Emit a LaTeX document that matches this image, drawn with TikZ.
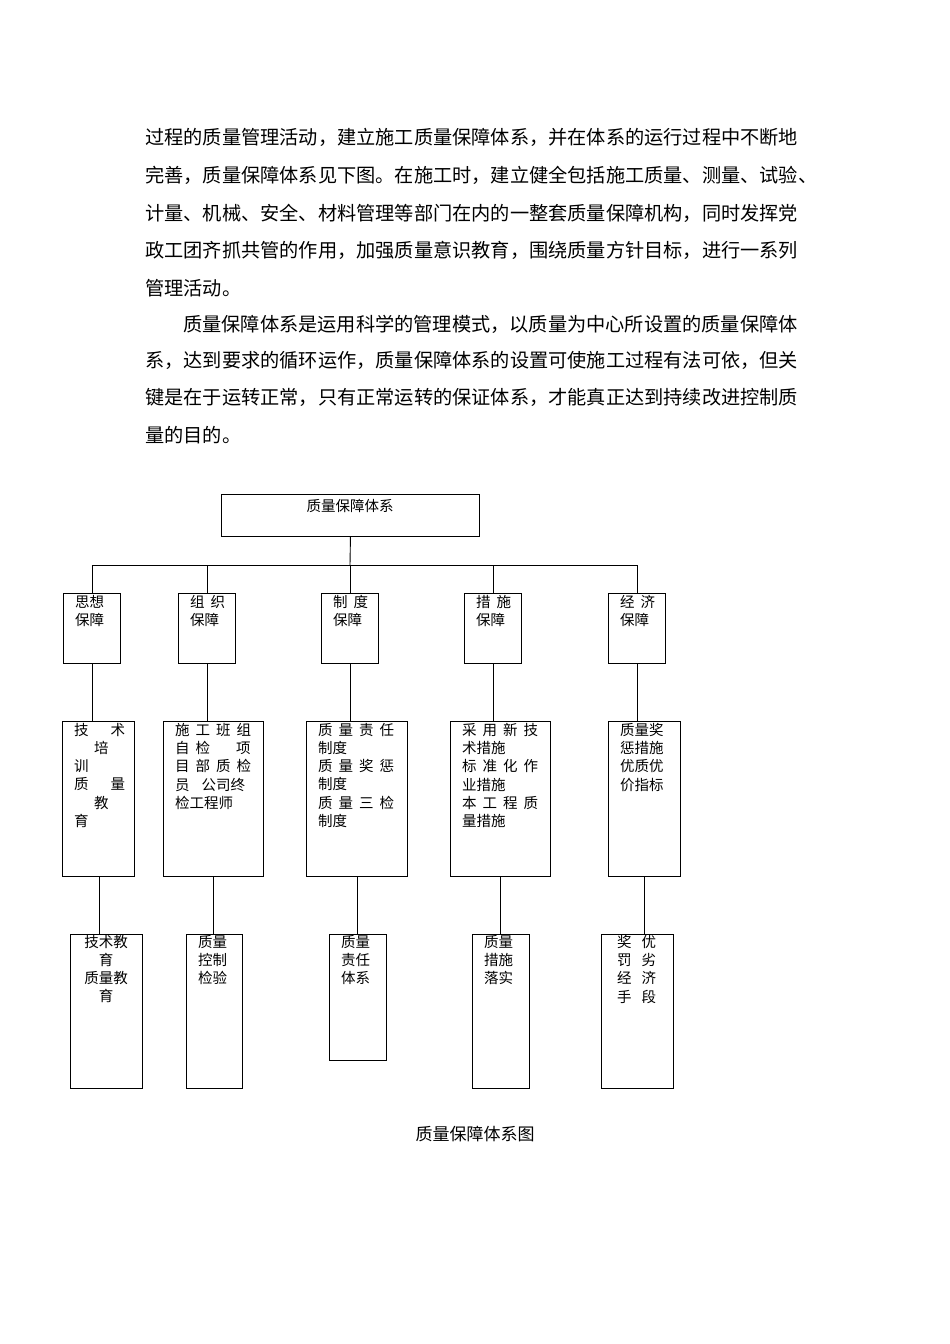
\documentclass[tikz,border=0pt]{standalone}
\usepackage{fontspec}
\setmainfont{Noto Sans CJK SC}
\begin{document}
\begin{tikzpicture}[x=1pt,y=-1pt,
  bx/.style={draw,line width=0.9pt,rectangle,anchor=north west,inner sep=0pt},
  tx/.style={anchor=north west,inner sep=0pt,align=left,font=\fontsize{14.5}{18.2}\selectfont},
  para/.style={anchor=west,inner sep=0pt,font=\fontsize{19.2}{19.2}\selectfont},
  ln/.style={line width=0.9pt}]
\useasboundingbox (0,0) rectangle (950,1344);
\newcommand\gp{\hspace{6pt}}
\node[para] (p1) at (145,137) {过程的质量管理活动，建立施工质量保障体系，并在体系的运行过程中不断地};
\node[para] (p2) at (145,175) {完善，质量保障体系见下图。在施工时，建立健全包括施工质量、测量、试验、};
\node[para] (p3) at (145,213) {计量、机械、安全、材料管理等部门在内的一整套质量保障机构，同时发挥党};
\node[para] (p4) at (145,250) {政工团齐抓共管的作用，加强质量意识教育，围绕质量方针目标，进行一系列};
\node[para] (p5) at (145,288) {管理活动。};
\node[para] (p6) at (183,324) {质量保障体系是运用科学的管理模式，以质量为中心所设置的质量保障体};
\node[para] (p7) at (145,360) {系，达到要求的循环运作，质量保障体系的设置可使施工过程有法可依，但关};
\node[para] (p8) at (145,397) {键是在于运转正常，只有正常运转的保证体系，才能真正达到持续改进控制质};
\node[para] (p9) at (145,435) {量的目的。};
% top
\node[bx,minimum width=258pt,minimum height=42pt] (top) at (221,494) {};
\node[tx,anchor=north] (toptx) at (350,499) {质量保障体系};
% level 1
\node[bx,minimum width=57pt,minimum height=70pt] (a1) at (63,593) {};
\node[bx,minimum width=57pt,minimum height=70pt] (a2) at (178,593) {};
\node[bx,minimum width=57pt,minimum height=70pt] (a3) at (321,593) {};
\node[bx,minimum width=57pt,minimum height=70pt] (a4) at (464,593) {};
\node[bx,minimum width=57pt,minimum height=70pt] (a5) at (608,593) {};
\node[tx] at (75,595) {思想\\保障};
\node[tx] at (190,595) {组\gp{}织\\保障};
\node[tx] at (333,595) {制\gp{}度\\保障};
\node[tx] at (476,595) {措\gp{}施\\保障};
\node[tx] at (620,595) {经\gp{}济\\保障};
% level 2
\node[bx,minimum width=72pt,minimum height=155pt] (b1) at (62,721) {};
\node[bx,minimum width=100pt,minimum height=155pt] (b2) at (163,721) {};
\node[bx,minimum width=101pt,minimum height=155pt] (b3) at (306,721) {};
\node[bx,minimum width=100pt,minimum height=155pt] (b4) at (450,721) {};
\node[bx,minimum width=72pt,minimum height=155pt] (b5) at (608,721) {};
\node[tx] at (74,723) {技\hspace{22pt}术\\\hspace{20pt}培\\训\\质\hspace{22pt}量\\\hspace{20pt}教\\育};
\node[tx] at (175,723) {施\gp{}工\gp{}班\gp{}组\\自\gp{}检\hspace{26pt}项\\目\gp{}部\gp{}质\gp{}检\\员\hspace{12pt}公司终\\检工程师};
\node[tx] at (318,723) {质\gp{}量\gp{}责\gp{}任\\制度\\质\gp{}量\gp{}奖\gp{}惩\\制度\\质\gp{}量\gp{}三\gp{}检\\制度};
\node[tx] at (462,723) {采\gp{}用\gp{}新\gp{}技\\术措施\\标\gp{}准\gp{}化\gp{}作\\业措施\\本\gp{}工\gp{}程\gp{}质\\量措施};
\node[tx] at (620,723) {质量奖\\惩措施\\优质优\\价指标};
% level 3
\node[bx,minimum width=72pt,minimum height=154pt] (c1) at (70,934) {};
\node[bx,minimum width=56pt,minimum height=154pt] (c2) at (186,934) {};
\node[bx,minimum width=57pt,minimum height=126pt] (c3) at (329,934) {};
\node[bx,minimum width=57pt,minimum height=154pt] (c4) at (472,934) {};
\node[bx,minimum width=72pt,minimum height=154pt] (c5) at (601,934) {};
\node[tx,align=center,anchor=north] at (106,935) {技术教\\育\\质量教\\育};
\node[tx] at (198,935) {质量\\控制\\检验};
\node[tx] at (341,935) {质量\\责任\\体系};
\node[tx] at (484,935) {质量\\措施\\落实};
\node[tx] at (617,935) {奖\hspace{10pt}优\\罚\hspace{10pt}劣\\经\hspace{10pt}济\\手\hspace{10pt}段};
% connectors
\coordinate (bus) at (350,565);
\draw[ln] (top.south) -- (bus);
\draw[ln] (a1.north |- bus) -- (a5.north |- bus);
\foreach \i in {1,...,5} {
  \draw[ln] (a\i.north |- bus) -- (a\i.north);
  \draw[ln] (a\i.south) -- (a\i.south |- b\i.north);
}
\draw[ln] (99,876) -- (99,934);
\draw[ln] (213,876) -- (213,934);
\draw[ln] (357,876) -- (357,934);
\draw[ln] (500,876) -- (500,934);
\draw[ln] (644,876) -- (644,934);
\node[anchor=center,inner sep=0pt,font=\fontsize{17}{17}\selectfont] (cap) at (475,1134) {质量保障体系图};
\end{tikzpicture}
\end{document}
